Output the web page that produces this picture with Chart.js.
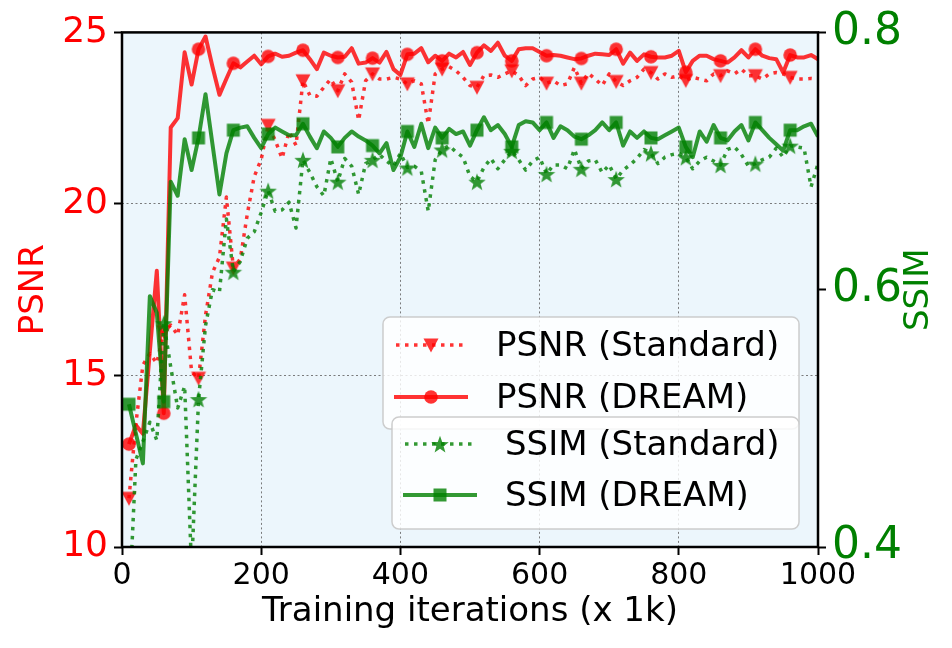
<!DOCTYPE html>
<html lang="en">
<head>
    <meta charset="UTF-8">
    <title>PSNR / SSIM vs training iterations</title>
    <script src="https://cdn.jsdelivr.net/npm/chart.js@4.4.1/dist/chart.umd.min.js"></script>
    <style>
        html, body { margin: 0; padding: 0; background: #fff; }
        #wrap { width: 952px; height: 648px; position: relative; }
    </style>
</head>
<body>
<div id="wrap"><canvas id="chart"></canvas></div>
<script>
    // training iterations (x 1k), one sample every 10k
    const iterations = [10, 20, 30, 40, 50, 60, 70, 80, 90, 100, 110, 120, 130, 140, 150, 160, 170, 180, 190, 200,
        210, 220, 230, 240, 250, 260, 270, 280, 290, 300, 310, 320, 330, 340, 350, 360, 370, 380, 390, 400,
        410, 420, 430, 440, 450, 460, 470, 480, 490, 500, 510, 520, 530, 540, 550, 560, 570, 580, 590, 600,
        610, 620, 630, 640, 650, 660, 670, 680, 690, 700, 710, 720, 730, 740, 750, 760, 770, 780, 790, 800,
        810, 820, 830, 840, 850, 860, 870, 880, 890, 900, 910, 920, 930, 940, 950, 960, 970, 980, 990, 1000];

    const psnrStandard = [11.42, 13.6, 15.3, 15.64, 15.36, 16.27, 16.47, 16.18, 17.35, 15.1,
        14.92, 16.75, 18.0, 18.45, 20.2, 18.13, 18.4, 19.7, 20.8, 21.3,
        22.29, 21.86, 21.33, 22.1, 21.71, 23.59, 23.16, 23.14, 23.4, 23.64,
        23.3, 23.79, 23.55, 22.44, 23.59, 23.79, 23.64, 23.64, 23.69, 23.64,
        23.5, 23.59, 23.5, 22.34, 23.79, 23.93, 24.0, 23.88, 23.69, 23.45,
        23.4, 23.74, 23.76, 23.69, 23.79, 23.88, 23.74, 23.45, 23.64, 23.69,
        23.52, 23.59, 23.45, 23.5, 23.98, 23.52, 23.81, 23.64, 23.45, 23.79,
        23.57, 23.45, 23.59, 23.69, 23.93, 23.83, 23.64, 23.79, 23.69, 23.74,
        23.6, 23.69, 23.64, 23.59, 23.79, 23.74, 23.88, 23.79, 23.93, 23.74,
        23.74, 23.64, 23.79, 23.83, 23.79, 23.69, 23.64, 23.64, 23.66, 23.64];

    const psnrDream = [13.0, 13.55, 13.3, 15.7, 18.05, 13.9, 22.23, 22.5, 24.42, 23.48,
        24.51, 24.88, 24.0, 23.18, 23.65, 24.1, 23.98, 24.15, 24.32, 24.07,
        24.3, 24.38, 24.29, 24.32, 24.41, 24.48, 24.22, 23.93, 24.41, 24.32,
        24.27, 24.29, 24.54, 24.09, 24.12, 24.25, 24.12, 24.43, 23.93, 23.76,
        24.36, 24.38, 24.54, 24.13, 24.32, 24.17, 24.38, 24.27, 24.43, 24.05,
        24.41, 24.62, 24.46, 24.7, 24.32, 24.17, 24.51, 24.54, 24.54, 24.43,
        24.32, 24.34, 24.32, 24.27, 24.22, 24.24, 24.32, 24.38, 24.36, 24.34,
        24.51, 24.09, 24.41, 24.17, 24.36, 24.29, 24.27, 24.27, 24.32, 24.46,
        23.84, 24.17, 24.32, 24.32, 24.22, 24.17, 24.12, 24.27, 24.48, 24.27,
        24.51, 24.32, 24.25, 24.22, 23.83, 24.34, 24.27, 24.27, 24.34, 24.22];

    const ssimStandard = [0.35, 0.468, 0.482, 0.497, 0.483, 0.574, 0.54, 0.508, 0.525, 0.383,
        0.515, 0.572, 0.600, 0.598, 0.655, 0.614, 0.622, 0.640, 0.645, 0.660,
        0.677, 0.661, 0.662, 0.668, 0.648, 0.701, 0.691, 0.680, 0.673, 0.702,
        0.684, 0.702, 0.696, 0.674, 0.698, 0.701, 0.705, 0.700, 0.696, 0.706,
        0.695, 0.696, 0.692, 0.661, 0.701, 0.709, 0.712, 0.707, 0.703, 0.688,
        0.684, 0.695, 0.702, 0.694, 0.701, 0.708, 0.701, 0.693, 0.700, 0.703,
        0.690, 0.697, 0.697, 0.694, 0.709, 0.694, 0.700, 0.701, 0.691, 0.697,
        0.686, 0.693, 0.697, 0.702, 0.709, 0.706, 0.698, 0.703, 0.705, 0.706,
        0.703, 0.694, 0.700, 0.703, 0.700, 0.697, 0.709, 0.711, 0.705, 0.696,
        0.698, 0.701, 0.703, 0.710, 0.703, 0.712, 0.711, 0.710, 0.680, 0.698];

    const ssimDream = [0.511, 0.488, 0.465, 0.595, 0.582, 0.513, 0.684, 0.673, 0.717, 0.693,
        0.718, 0.752, 0.713, 0.674, 0.706, 0.724, 0.726, 0.727, 0.718, 0.710,
        0.721, 0.726, 0.723, 0.720, 0.720, 0.729, 0.719, 0.710, 0.723, 0.718,
        0.711, 0.718, 0.723, 0.719, 0.716, 0.712, 0.706, 0.714, 0.693, 0.703,
        0.723, 0.711, 0.729, 0.710, 0.726, 0.718, 0.725, 0.721, 0.723, 0.712,
        0.724, 0.734, 0.724, 0.728, 0.721, 0.711, 0.728, 0.731, 0.730, 0.724,
        0.730, 0.718, 0.727, 0.724, 0.719, 0.717, 0.720, 0.724, 0.730, 0.724,
        0.730, 0.712, 0.723, 0.718, 0.723, 0.718, 0.717, 0.720, 0.723, 0.726,
        0.711, 0.703, 0.723, 0.715, 0.728, 0.718, 0.716, 0.723, 0.728, 0.716,
        0.730, 0.724, 0.718, 0.713, 0.708, 0.724, 0.724, 0.727, 0.729, 0.719];

    const xTicks = [0, 200, 400, 600, 800, 1000];
    const psnrTicks = [10, 15, 20, 25];
    const ssimTicks = [0.4, 0.6, 0.8];

    const FONT = 'DejaVu Sans';
    const RED = 'rgba(255,0,0,0.8)';
    const GREEN = 'rgba(0,128,0,0.8)';

    // small canvases used as point styles (matplotlib-like markers)
    function marker(kind, color) {
        const s = 22, m = s / 2;
        const c = document.createElement('canvas');
        c.width = s;
        c.height = s;
        const g = c.getContext('2d');
        g.fillStyle = color;
        g.beginPath();
        if (kind === 'circle') {
            g.arc(m, m, 6.8, 0, 2 * Math.PI);
        } else if (kind === 'square') {
            g.rect(m - 6.5, m - 6.5, 13, 13);
        } else if (kind === 'triangle') {
            g.moveTo(m - 7.5, m - 6.5);
            g.lineTo(m + 7.5, m - 6.5);
            g.lineTo(m, m + 7.5);
            g.closePath();
        } else if (kind === 'star') {
            for (let k = 0; k < 10; k++) {
                const r = k % 2 ? 3.8 : 9.2;
                const a = -Math.PI / 2 + k * Math.PI / 5;
                const px = m + r * Math.cos(a), py = m + 1 + r * Math.sin(a);
                if (k === 0) g.moveTo(px, py); else g.lineTo(px, py);
            }
            g.closePath();
        }
        g.fill();
        return c;
    }

    const triMark = marker('triangle', RED);
    const dotMark = marker('circle', RED);
    const starMark = marker('star', GREEN);
    const sqMark = marker('square', GREEN);

    function points(values) {
        return values.map((v, i) => ({x: iterations[i], y: v}));
    }

    const everyFifth = ctx => (ctx.dataIndex % 5 === 0 ? 7 : 0);

    const series = [
        {label: 'PSNR (Standard)', data: points(psnrStandard), yAxisID: 'y', color: RED, dash: [3.5, 5.5], mark: triMark, order: 4},
        {label: 'PSNR (DREAM)', data: points(psnrDream), yAxisID: 'y', color: RED, dash: [], mark: dotMark, order: 3},
        {label: 'SSIM (Standard)', data: points(ssimStandard), yAxisID: 'y2', color: GREEN, dash: [3.5, 5.5], mark: starMark, order: 2},
        {label: 'SSIM (DREAM)', data: points(ssimDream), yAxisID: 'y2', color: GREEN, dash: [], mark: sqMark, order: 1}
    ];

    const datasets = series.map(s => ({
        label: s.label,
        data: s.data,
        yAxisID: s.yAxisID,
        borderColor: s.color,
        backgroundColor: s.color,
        borderWidth: s.dash.length ? 3.5 : 4,
        borderDash: s.dash,
        borderJoinStyle: 'round',
        borderCapStyle: 'butt',
        pointStyle: s.mark,
        pointRadius: everyFifth,
        pointHoverRadius: everyFifth,
        tension: 0,
        fill: false,
        clip: 0,
        order: s.order
    }));

    const gridLook = {
        color: 'rgba(110,110,110,0.9)',
        lineWidth: 1,
        tickColor: '#000',
        tickWidth: 2,
        tickLength: 8,
        tickBorderDash: []
    };

    const backdrop = {
        id: 'backdrop',
        beforeDraw(chart) {
            const {ctx, chartArea: a} = chart;
            ctx.save();
            ctx.fillStyle = 'rgb(236,246,252)';
            ctx.fillRect(a.left, a.top, a.right - a.left, a.bottom - a.top);
            ctx.restore();
        }
    };

    function legendBox(ctx, box, rows) {
        ctx.save();
        ctx.beginPath();
        ctx.roundRect(box.x, box.y, box.w, box.h, 7);
        ctx.fillStyle = 'rgba(255,255,255,0.82)';
        ctx.fill();
        ctx.lineWidth = 1.5;
        ctx.strokeStyle = 'rgba(200,200,200,0.9)';
        ctx.stroke();
        rows.forEach(r => {
            const s = series[r.idx];
            ctx.beginPath();
            ctx.setLineDash(s.dash);
            ctx.lineWidth = s.dash.length ? 3.5 : 4;
            ctx.strokeStyle = s.color;
            ctx.moveTo(r.x0, r.y);
            ctx.lineTo(r.x1, r.y);
            ctx.stroke();
            ctx.setLineDash([]);
            const mx = (r.x0 + r.x1) / 2;
            ctx.drawImage(s.mark, mx - s.mark.width / 2, r.y - s.mark.height / 2);
            ctx.fillStyle = '#000';
            ctx.font = '34px "' + FONT + '"';
            ctx.textBaseline = 'middle';
            ctx.textAlign = 'left';
            ctx.fillText(s.label, r.tx, r.y + 2);
        });
        ctx.restore();
    }

    const decorations = {
        id: 'decorations',
        afterDraw(chart) {
            const {ctx, chartArea: a} = chart;
            ctx.save();
            // axes frame
            ctx.strokeStyle = '#000';
            ctx.lineWidth = 2.5;
            ctx.strokeRect(a.left, a.top, a.right - a.left, a.bottom - a.top);

            // axis titles
            ctx.font = '34px "' + FONT + '"';
            ctx.textAlign = 'center';
            ctx.textBaseline = 'middle';
            ctx.fillStyle = '#000';
            ctx.fillText('Training iterations (x 1k)', (a.left + a.right) / 2, 612);

            ctx.save();
            ctx.translate(34, (a.top + a.bottom) / 2);
            ctx.rotate(-Math.PI / 2);
            ctx.fillStyle = 'red';
            ctx.fillText('PSNR', 0, 0);
            ctx.restore();

            ctx.save();
            ctx.translate(919, (a.top + a.bottom) / 2);
            ctx.rotate(-Math.PI / 2);
            ctx.fillStyle = 'green';
            ctx.fillText('SSIM', 0, 0);
            ctx.restore();
            ctx.restore();

            legendBox(ctx, {x: 383, y: 317, w: 416, h: 112}, [
                {idx: 0, x0: 396, x1: 466, y: 345, tx: 496},
                {idx: 1, x0: 394, x1: 468, y: 397, tx: 496}
            ]);
            legendBox(ctx, {x: 392, y: 417, w: 407, h: 112}, [
                {idx: 2, x0: 405, x1: 475, y: 444, tx: 505},
                {idx: 3, x0: 403, x1: 477, y: 495, tx: 505}
            ]);
        }
    };

    new Chart(document.getElementById('chart').getContext('2d'), {
        type: 'line',
        data: {datasets: datasets},
        options: {
            responsive: true,
            maintainAspectRatio: false,
            animation: false,
            devicePixelRatio: 1,
            layout: {padding: {top: 28, left: 0, right: 0, bottom: 0}},
            plugins: {
                legend: {display: false},
                tooltip: {enabled: false}
            },
            scales: {
                x: {
                    type: 'linear',
                    position: 'bottom',
                    min: xTicks[0],
                    max: xTicks[xTicks.length - 1],
                    afterBuildTicks(scale) { scale.ticks = xTicks.map(v => ({value: v})); },
                    ticks: {autoSkip: false, maxRotation: 0, color: '#000', padding: 3,
                        font: {family: FONT, size: 30}, callback: v => String(v)},
                    grid: gridLook,
                    border: {display: false, dash: [2, 2.5]},
                    afterFit(scale) { scale.height = 101; }
                },
                y: {
                    type: 'linear',
                    position: 'left',
                    min: psnrTicks[0],
                    max: psnrTicks[psnrTicks.length - 1],
                    afterBuildTicks(scale) { scale.ticks = psnrTicks.map(v => ({value: v})); },
                    ticks: {color: 'red', padding: 6, font: {family: FONT, size: 36}},
                    grid: gridLook,
                    border: {display: false, dash: [2, 2.5]},
                    afterFit(scale) { scale.width = 122; }
                },
                y2: {
                    type: 'linear',
                    position: 'right',
                    min: ssimTicks[0],
                    max: ssimTicks[ssimTicks.length - 1],
                    afterBuildTicks(scale) { scale.ticks = ssimTicks.map(v => ({value: v})); },
                    ticks: {color: 'green', padding: 6, font: {family: FONT, size: 44},
                        callback: v => v.toFixed(1)},
                    grid: Object.assign({}, gridLook, {drawOnChartArea: false}),
                    border: {display: false},
                    afterFit(scale) { scale.width = 134; }
                }
            }
        },
        plugins: [backdrop, decorations]
    });
</script>
</body>
</html>
